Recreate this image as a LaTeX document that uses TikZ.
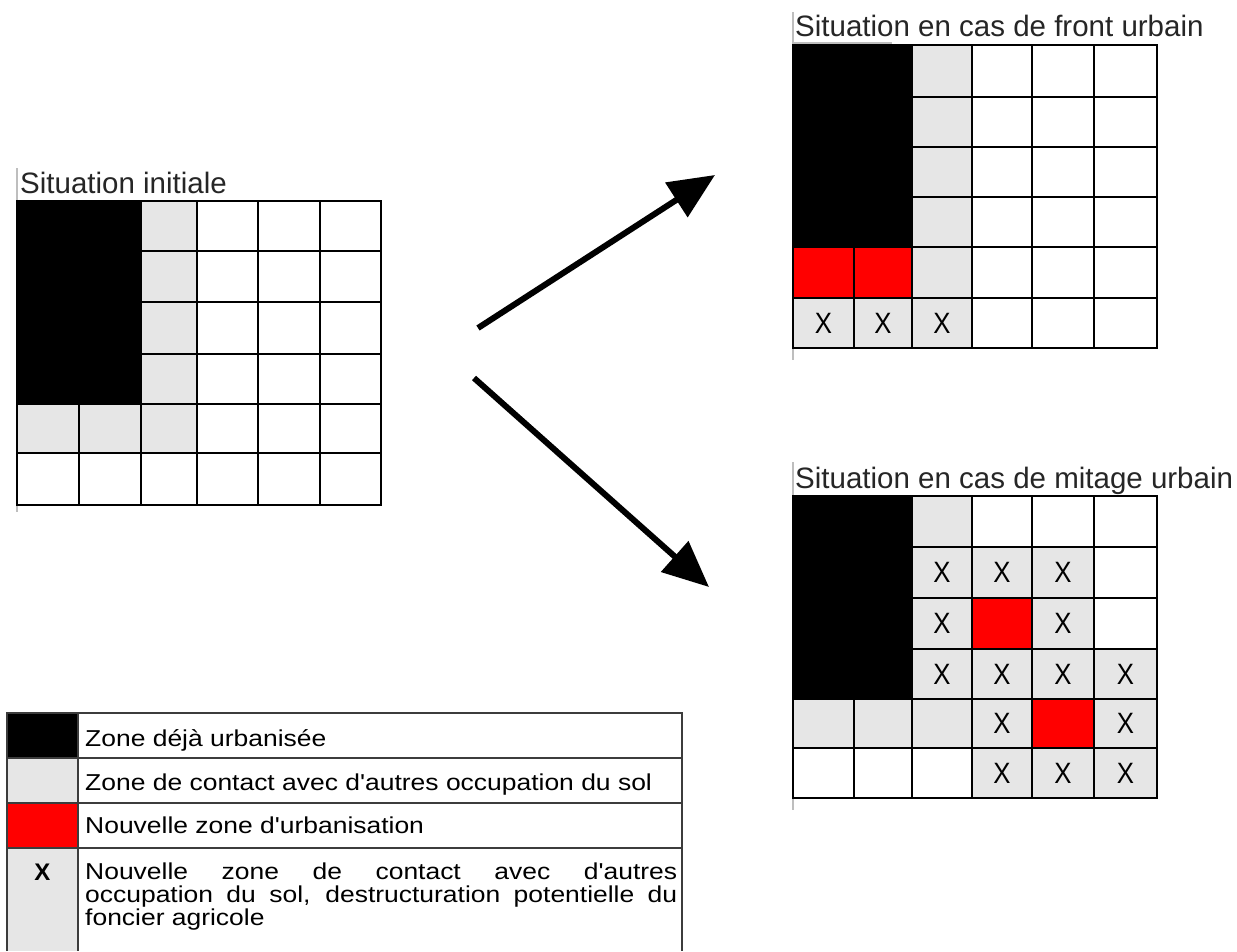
\documentclass[tikz,border=0pt]{standalone}
\usepackage{fontspec}
\setmainfont{Liberation Sans}[Ligatures=TeXOff]
\usetikzlibrary{arrows.meta}
\definecolor{cgray}{RGB}{230,230,230}
\definecolor{cred}{RGB}{255,0,0}
\definecolor{frameline}{RGB}{190,190,190}
\definecolor{legline}{RGB}{60,60,60}

\newcommand\gbox[2]{%
  \pgfmathsetmacro\xa{\CX[#1-1]}\pgfmathsetmacro\xb{\CX[#1]}%
  \pgfmathsetmacro\ya{\RY[#2-1]}\pgfmathsetmacro\yb{\RY[#2]}}
\newcommand\gfill[3]{\gbox{#1}{#2}\fill[#3] (\xa,\ya) rectangle (\xb,\yb);}
\newcommand\gmark[3]{\gbox{#1}{#2}\node[xmark] (#3) at ({(\xa+\xb)/2},{(\ya+\yb)/2}) {\scalebox{0.92}[1.05]{X}};}
\newcommand\glines{%
  \foreach \i in {0,...,6}{%
    \pgfmathsetmacro\xx{\CX[\i]}\pgfmathsetmacro\yy{\RY[\i]}%
    \pgfmathsetmacro\gT{\RY[0]}\pgfmathsetmacro\gB{\RY[6]}%
    \pgfmathsetmacro\gL{\CX[0]}\pgfmathsetmacro\gR{\CX[6]}%
    \draw[gridline] (\xx,\gT) -- (\xx,\gB);
    \draw[gridline] (\gL,\yy) -- (\gR,\yy);}%
  \pgfmathsetmacro\gL{\CX[0]}\pgfmathsetmacro\gT{\RY[0]}%
  \pgfmathsetmacro\bR{\CX[2]}\pgfmathsetmacro\bB{\RY[4]}%
  \fill[black] (\gL,\gT) rectangle (\bR,\bB);}
\newcommand\lt[1]{\scalebox{1.15}[1]{#1}}

\begin{document}
\begin{tikzpicture}[x=1pt,y=-1pt,
  gridline/.style={line width=2pt, line cap=rect, black},
  xmark/.style={inner sep=0pt, font=\fontsize{28}{28}\selectfont, text=black},
  title/.style={anchor=base west, inner sep=0pt, font=\fontsize{29.5}{30}\selectfont, text=black!85},
  legtext/.style={anchor=base west, inner sep=0pt, font=\fontsize{23}{23}\selectfont},
  legrule/.style={line width=1.5pt, draw=legline},
  framerule/.style={line width=1.2pt, draw=frameline},
  bigarrow/.style={line width=6pt, -{Triangle[length=46pt,width=40pt]}}]
\useasboundingbox (0,0) rectangle (1237,951);
\fill[white] (0,0) rectangle (1237,951);

% ---------- initial situation ----------
\draw[framerule] (17,168) -- (17,512);
\node[title] (tinit) at (20,193) {Situation initiale};
\def\CX{{17,79,141,197,258,320,381}}
\def\RY{{201,251,302,354,404,453,505}}
\foreach \c/\r in {3/1,3/2,3/3,3/4,3/5,1/5,2/5}{\gfill{\c}{\r}{cgray}}
\glines

% ---------- front urbain ----------
\draw[framerule] (793,12) -- (793,360);
\draw[framerule] (793,43) -- (892,43);
\node[title] (tfront) at (795,36) {Situation en cas de front urbain};
\def\CX{{793,854,912,972,1032,1094,1157}}
\def\RY{{45,97,147,197,247,298,348}}
\foreach \c/\r in {3/1,3/2,3/3,3/4,3/5,3/6,1/6,2/6}{\gfill{\c}{\r}{cgray}}
\foreach \c/\r in {1/5,2/5}{\gfill{\c}{\r}{cred}}
\glines
\foreach \c/\r in {1/6,2/6,3/6}{\gmark{\c}{\r}{fx\c\r}}

% ---------- mitage urbain ----------
\draw[framerule] (793,462) -- (793,810);
\node[title] (tmit) at (795,488) {Situation en cas de mitage urbain};
\def\CX{{793,854,912,972,1032,1094,1157}}
\def\RY{{496,547,598,649,699,748,798}}
\foreach \c/\r in {3/1,3/2,4/2,5/2,3/3,5/3,3/4,4/4,5/4,6/4,1/5,2/5,3/5,4/5,6/5,4/6,5/6,6/6}{\gfill{\c}{\r}{cgray}}
\foreach \c/\r in {4/3,5/5}{\gfill{\c}{\r}{cred}}
\glines
\foreach \c/\r in {3/2,4/2,5/2,3/3,5/3,3/4,4/4,5/4,6/4,4/5,6/5,4/6,5/6,6/6}{\gmark{\c}{\r}{mx\c\r}}

% ---------- arrows ----------
\coordinate (a1s) at (478,328);
\coordinate (a1e) at (715,175);
\coordinate (a2s) at (474,378);
\coordinate (a2e) at (709,587);
\draw[bigarrow] (a1s) -- (a1e);
\draw[bigarrow] (a2s) -- (a2e);

% ---------- legend ----------
\fill[black] (7,713) rectangle (78,758);
\fill[cgray] (7,758) rectangle (78,803);
\fill[cred] (7,803) rectangle (78,848);
\fill[cgray] (7,848) rectangle (78,951);
\draw[legrule] (7,951) -- (7,713) -- (682,713) -- (682,951);
\draw[legrule] (7,758) -- (682,758);
\draw[legrule] (7,803) -- (682,803);
\draw[legrule] (7,848) -- (682,848);
\draw[legrule] (78,713) -- (78,951);
\node[legtext] (l1) at (85,746) {\lt{Zone déjà urbanisée}};
\node[legtext] (l2) at (85,790) {\lt{Zone de contact avec d'autres occupation du sol}};
\node[legtext] (l3) at (85,833) {\lt{Nouvelle zone d'urbanisation}};
\node[legtext, anchor=base, font=\bfseries\fontsize{24}{24}\selectfont] (lx) at (42.5,880) {X};
\node[legtext] (l4a) at (85,879) {\lt{\makebox[514.8pt][s]{Nouvelle zone de contact avec d'autres}}};
\node[legtext] (l4b) at (85,902) {\lt{\makebox[514.8pt][s]{occupation du sol, destructuration potentielle du}}};
\node[legtext] (l4c) at (85,925) {\lt{foncier agricole}};
\end{tikzpicture}
\end{document}
